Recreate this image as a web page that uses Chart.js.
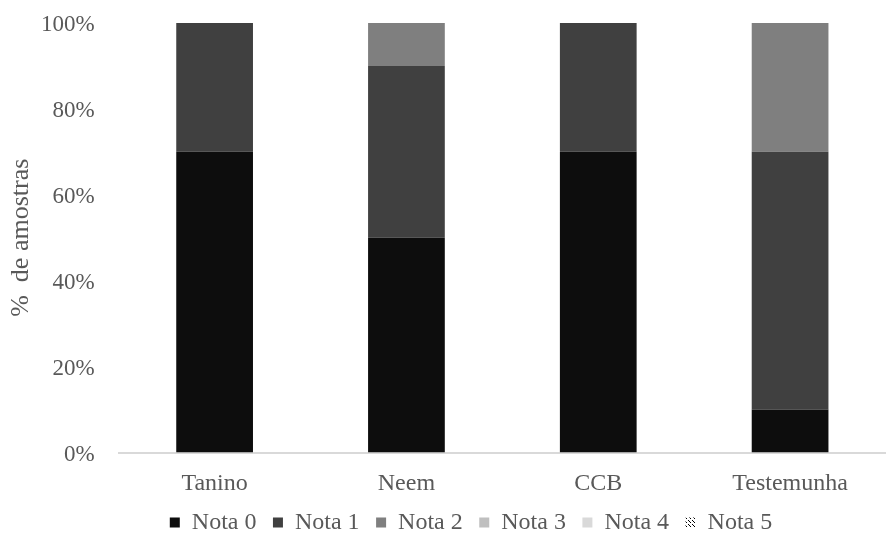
<!DOCTYPE html>
<html>
<head>
<meta charset="utf-8">
<script src="https://cdn.jsdelivr.net/npm/chart.js@4/dist/chart.umd.min.js"></script>
<style>
  html, body { margin: 0; padding: 0; background: #ffffff; overflow: hidden; }
  #wrap { width: 886px; height: 533px; position: relative; }
</style>
</head>
<body>
<div id="wrap"><canvas id="chart" width="886" height="533"></canvas></div>
<script>
// Treatments and share of samples (%) per damage score
const categories = ['Tanino', 'Neem', 'CCB', 'Testemunha'];
const nota0 = [70, 50, 70, 10];
const nota1 = [30, 40, 30, 60];
const nota2 = [0, 10, 0, 30];
const nota3 = [0, 0, 0, 0];
const nota4 = [0, 0, 0, 0];
const nota5 = [0, 0, 0, 0];
const seriesNames = ['Nota 0', 'Nota 1', 'Nota 2', 'Nota 3', 'Nota 4', 'Nota 5'];
const yTicks = [0, 20, 40, 60, 80, 100];

const FONT = "'Liberation Serif', 'Times New Roman', serif";
const TEXT = '#595959';

// Diagonal hatch used for "Nota 5"
function hatch() {
  const c = document.createElement('canvas');
  c.width = 4; c.height = 4;
  const g = c.getContext('2d');
  g.fillStyle = '#ffffff';
  g.fillRect(0, 0, 4, 4);
  g.fillStyle = '#000000';
  g.fillRect(0, 0, 1, 1);
  g.fillRect(1, 1, 1, 1);
  g.fillRect(2, 2, 1, 1);
  return g.createPattern(c, 'repeat');
}

const fills = ['#0d0d0d', '#404040', '#7f7f7f', '#bfbfbf', '#d9d9d9', hatch()];
const values = [nota0, nota1, nota2, nota3, nota4, nota5];

const datasets = seriesNames.map((name, i) => ({
  label: name,
  data: values[i],
  backgroundColor: fills[i],
  borderWidth: 0,
  barPercentage: 1,
  categoryPercentage: 0.4
}));

// Centre the legend row under a fixed point of the canvas
const legendShift = {
  id: 'legendShift',
  beforeDraw(chart) {
    const lg = chart.legend;
    if (!lg) return;
    const w = lg.right - lg.left;
    const cx = 471;
    lg.left = cx - w / 2;
    lg.right = cx + w / 2;
  }
};

new Chart(document.getElementById('chart'), {
  type: 'bar',
  data: { labels: categories, datasets: datasets },
  plugins: [legendShift],
  options: {
    responsive: false,
    animation: false,
    layout: { padding: { top: 23, right: -11, bottom: -11.5, left: 0 } },
    plugins: {
      tooltip: { enabled: false },
      legend: {
        position: 'bottom',
        labels: {
          font: { family: FONT, size: 24 },
          color: TEXT,
          boxWidth: 10,
          boxHeight: 10,
          padding: 16.5
        }
      }
    },
    scales: {
      x: {
        stacked: true,
        grid: { display: false, drawTicks: false },
        border: { display: true, color: '#d9d9d9', width: 2 },
        ticks: { font: { family: FONT, size: 24 }, color: TEXT, padding: 17 },
        afterFit(scale) { scale.height = 41.5; }
      },
      y: {
        stacked: true,
        min: 0,
        max: 100,
        afterBuildTicks(scale) { scale.ticks = yTicks.map(v => ({ value: v })); },
        grid: { display: false, drawTicks: false },
        border: { display: false },
        ticks: {
          font: { family: FONT, size: 23 },
          color: TEXT,
          padding: 24,
          labelOffset: 2,
          callback: v => v + '%'
        },
        title: {
          display: true,
          text: '%  de amostras',
          font: { family: FONT, size: 26 },
          color: TEXT,
          padding: { top: 6, bottom: 0 }
        },
        afterFit(scale) {
          scale.width = 118.7;
          scale.paddingTop = 0;
          scale.paddingBottom = 0;
        }
      }
    }
  }
});
</script>
</body>
</html>
